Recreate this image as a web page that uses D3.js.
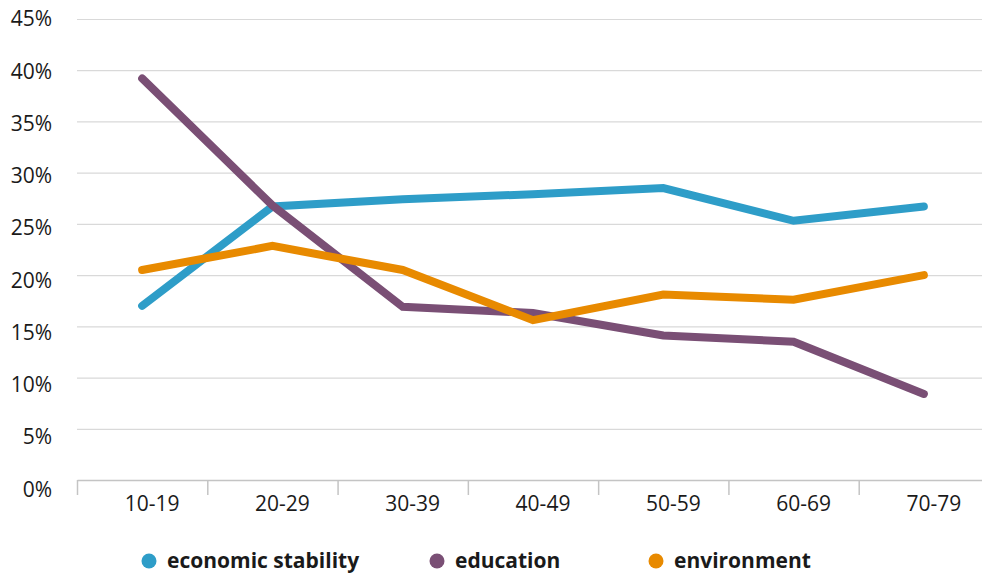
<!DOCTYPE html>
<html>
<head>
<meta charset="utf-8">
<script src="https://cdn.jsdelivr.net/npm/d3@7"></script>
<style>
  html, body { margin: 0; padding: 0; background: #fff; }
  svg { display: block; }
  text { font-family: "Open Sans", "Noto Sans", sans-serif; fill: #1a1a1a; }
</style>
</head>
<body>
<svg id="chart" width="982" height="576"></svg>
<script>
const categories = ["10-19", "20-29", "30-39", "40-49", "50-59", "60-69", "70-79"];
const economicStability = [17.0, 26.7, 27.4, 27.9, 28.5, 25.3, 26.7];
const education = [39.2, 26.8, 16.9, 16.3, 14.1, 13.5, 8.4];
const environment = [20.5, 22.85, 20.5, 15.6, 18.1, 17.6, 20.0];
const yTicks = [0, 5, 10, 15, 20, 25, 30, 35, 40, 45];
const seriesNames = ["economic stability", "education", "environment"];
const seriesColors = ["#2e9dc8", "#7a4f75", "#e88a00"];

(function () {
const series = [economicStability, education, environment].map((vals, i) => ({
  name: seriesNames[i], color: seriesColors[i], values: vals
}));

const svg = d3.select("#chart");
const mLeft = 77, mRight = 989, mTop = 19, mBottom = 480;

const x = d3.scaleBand().domain(categories).range([mLeft, mRight]).padding(0);
const y = d3.scaleLinear().domain([0, 45]).range([mBottom, mTop]);
// tick labels sit on a slightly wider spacing than the gridlines
const yLabel = d3.scaleLinear().domain([0, 45]).range([489, 18.8]);

// gridlines
svg.append("g")
  .selectAll("line")
  .data(yTicks.filter(d => d > 0))
  .join("line")
  .attr("x1", mLeft).attr("x2", 982)
  .attr("y1", d => y(d) + 0.5).attr("y2", d => y(d) + 0.5)
  .attr("stroke", "#d9d9d9").attr("stroke-width", 1.2);

// y labels
svg.append("g")
  .selectAll("text")
  .data(yTicks)
  .join("text")
  .attr("x", 52)
  .attr("y", d => yLabel(d) + 7.5)
  .attr("text-anchor", "end")
  .attr("font-size", 21)
  .text(d => d + "%");

// x axis
const xAxis = d3.axisBottom(x).tickSize(0).tickFormat(d => d);
const gx = svg.append("g").attr("transform", `translate(0,${mBottom})`).call(xAxis);
gx.select(".domain").attr("stroke", "#c4c4c4").attr("stroke-width", 1.5);
gx.selectAll(".tick text")
  .attr("font-size", 21)
  .attr("dy", 0)
  .attr("y", 31)
  .attr("x", 10)
  .style("font-family", '"Open Sans", "Noto Sans", sans-serif')
  .attr("fill", "#1a1a1a");
// band separators
svg.append("g")
  .selectAll("line")
  .data(categories)
  .join("line")
  .attr("x1", d => x(d) + 0.5).attr("x2", d => x(d) + 0.5)
  .attr("y1", mBottom).attr("y2", mBottom + 15)
  .attr("stroke", "#c4c4c4").attr("stroke-width", 1.5);

// lines
const line = d3.line()
  .x((d, i) => x(categories[i]) + x.bandwidth() / 2)
  .y(d => y(d));

svg.append("g")
  .selectAll("path")
  .data(series)
  .join("path")
  .attr("d", s => line(s.values))
  .attr("fill", "none")
  .attr("stroke", s => s.color)
  .attr("stroke-width", 8)
  .attr("stroke-linecap", "round")
  .attr("stroke-linejoin", "miter");

// legend
const legendX = [149, 437, 656];
const lg = svg.append("g")
  .selectAll("g")
  .data(series)
  .join("g")
  .attr("transform", (d, i) => `translate(${legendX[i]},561)`);
lg.append("circle").attr("r", 7.5).attr("fill", d => d.color);
lg.append("text")
  .attr("x", 18).attr("y", 6.5)
  .attr("font-size", 21)
  .attr("font-weight", "bold")
  .text(d => d.name);
})();
</script>
</body>
</html>
